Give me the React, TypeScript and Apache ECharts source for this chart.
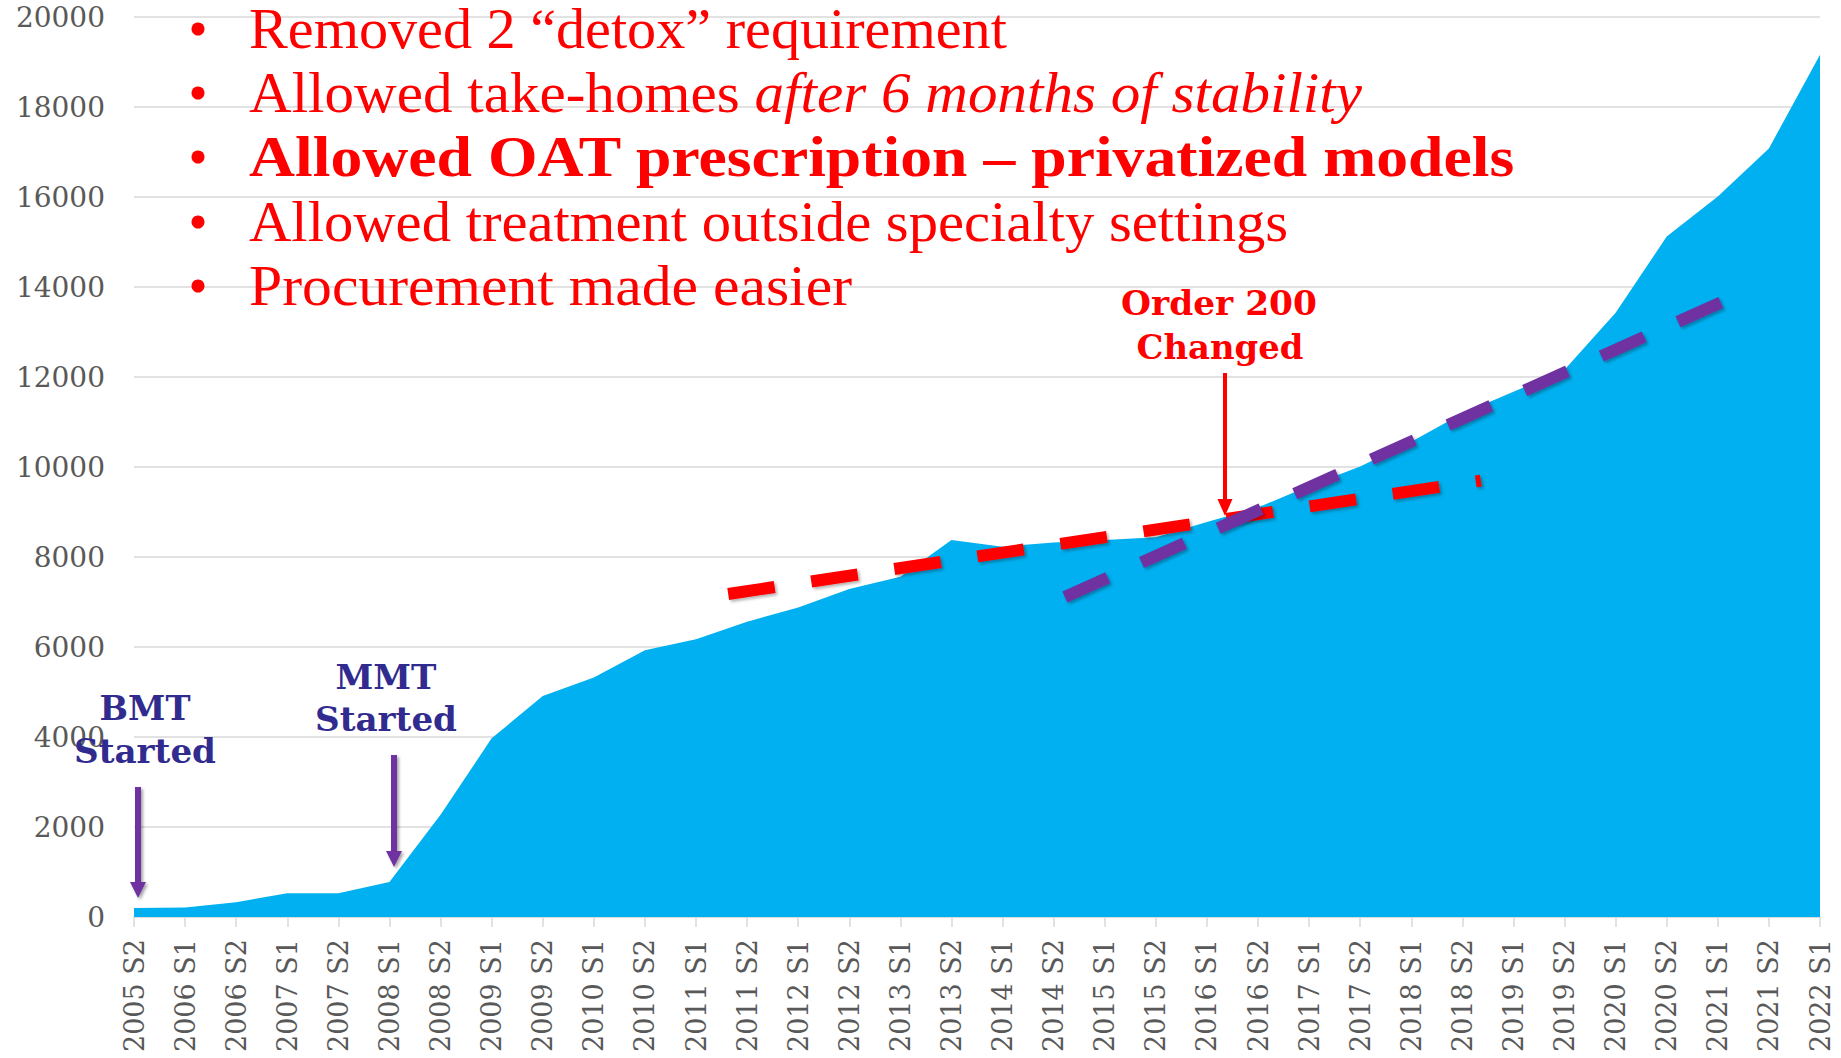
import React, { useEffect, useRef } from 'react';
import * as echarts from 'echarts';

const categories = [
  '2005 S2', '2006 S1', '2006 S2', '2007 S1', '2007 S2', '2008 S1', '2008 S2', '2009 S1', '2009 S2',
  '2010 S1', '2010 S2', '2011 S1', '2011 S2', '2012 S1', '2012 S2', '2013 S1', '2013 S2', '2014 S1',
  '2014 S2', '2015 S1', '2015 S2', '2016 S1', '2016 S2', '2017 S1', '2017 S2', '2018 S1', '2018 S2',
  '2019 S1', '2019 S2', '2020 S1', '2020 S2', '2021 S1', '2021 S2', '2022 S1',
];

const patients = [
  200, 210, 330, 530, 530, 780, 2270, 3970, 4910, 5320, 5930, 6170, 6560, 6880, 7290, 7560, 8380,
  8230, 8320, 8380, 8440, 8780, 9100, 9580, 10010, 10560, 11190, 11670, 12160, 13430, 15120, 16010,
  17080, 19160,
];

// trend lines: [category position, value]
const redTrend = [
  [11.63, 7178],
  [26.36, 9698],
];
const purpleTrend = [
  [18.22, 7111],
  [31.08, 13667],
];

const yTicks = { min: 0, max: 20000, interval: 2000 };

const bullet1 = 'Removed 2 \u201Cdetox\u201D requirement';
const bullet2a = 'Allowed take-homes ';
const bullet2b = 'after 6 months of stability';
const bullet3 = 'Allowed OAT prescription \u2013 privatized models';
const bullet4 = 'Allowed treatment outside specialty settings';
const bullet5 = 'Procurement made easier';

const RED = '#FF0000';
const PURPLE = '#7030A0';
const NAVY = '#312B8F';
const AREA = '#00B0F0';
const GRIDC = '#D9D9D9';
const LABEL = '#595959';

export default function App() {
  const ref = useRef<HTMLDivElement>(null);

  useEffect(() => {
    if (!ref.current) return;
    document.body.style.margin = '0';
    const chart = echarts.init(ref.current, undefined, { renderer: 'svg' });

    const cv = document.createElement('canvas');
    const ctx = cv.getContext('2d') as CanvasRenderingContext2D;
    const tw = (t: string, size: number, family: string, weight = 'normal', style = 'normal') => {
      ctx.font = `${style} ${weight} ${size}px "${family}"`;
      return ctx.measureText(t).width;
    };

    const BF = 'Liberation Serif';
    const BS = 57;
    const LF = 'DejaVu Serif';
    const LS = 34;

    const bulletYs = [29, 93, 157, 222, 286];
    const textX = 249;

    const bulletText = (text: string, y: number, target: number, weight = 'normal') => ({
      type: 'text',
      x: textX,
      y,
      z: 100,
      scaleX: target / tw(text, BS, BF, weight),
      style: {
        text,
        fontFamily: BF,
        fontSize: BS,
        fontWeight: weight,
        lineHeight: 54,
        fill: RED,
        align: 'left',
        verticalAlign: 'middle',
        textAlign: 'left',
        textVerticalAlign: 'middle',
      },
    });

    const w2 = tw(bullet2a, BS, BF) + tw(bullet2b, BS, BF, 'normal', 'italic');

    const label = (text: string, x: number, y: number, target: number, color: string) => ({
      type: 'text',
      x,
      y,
      z: 100,
      scaleX: target / tw(text, LS, LF, 'bold'),
      style: {
        text,
        fontFamily: LF,
        fontSize: LS,
        fontWeight: 'bold',
        fill: color,
        align: 'center',
        verticalAlign: 'middle',
        textAlign: 'center',
        textVerticalAlign: 'middle',
      },
    });

    const arrow = (x: number, y1: number, y2: number, color: string, lw: number, hw: number, hh: number, shadow: boolean) => {
      const sh = shadow
        ? { shadowBlur: 3, shadowColor: 'rgba(0,0,0,0.35)', shadowOffsetX: 2, shadowOffsetY: 2 }
        : {};
      return [
        {
          type: 'rect',
          z: 100,
          shape: { x: x - lw / 2, y: y1, width: lw, height: y2 - hh - y1 + 1 },
          style: { fill: color, ...sh },
        },
        {
          type: 'polygon',
          z: 100,
          shape: { points: [[x - hw / 2, y2 - hh], [x + hw / 2, y2 - hh], [x, y2]] },
          style: { fill: color, ...sh },
        },
      ];
    };

    const graphics: any[] = [];
    bulletYs.forEach((y) => {
      graphics.push({ type: 'circle', z: 100, shape: { cx: 198, cy: y, r: 6.5 }, style: { fill: RED } });
    });
    graphics.push(bulletText(bullet1, bulletYs[0], 758));
    graphics.push({
      type: 'text',
      x: textX,
      y: bulletYs[1],
      z: 100,
      scaleX: 1113 / w2,
      style: {
        text: `{a|${bullet2a}}{b|${bullet2b}}`,
        align: 'left',
        verticalAlign: 'middle',
        textAlign: 'left',
        textVerticalAlign: 'middle',
        rich: {
          a: { fontFamily: BF, fontSize: BS, lineHeight: 54, fill: RED },
          b: { fontFamily: BF, fontSize: BS, lineHeight: 54, fontStyle: 'italic', fill: RED },
        },
      },
    });
    graphics.push(bulletText(bullet3, bulletYs[2], 1267, 'bold'));
    graphics.push(bulletText(bullet4, bulletYs[3], 1039));
    graphics.push(bulletText(bullet5, bulletYs[4], 603));

    graphics.push(label('BMT', 145, 708, 91, NAVY));
    graphics.push(label('Started', 145, 751, 142, NAVY));
    graphics.push(label('MMT', 386, 677, 101, NAVY));
    graphics.push(label('Started', 386, 719, 142, NAVY));
    graphics.push(label('Order 200', 1219, 303, 196, RED));
    graphics.push(label('Changed', 1220, 347, 167, RED));

    graphics.push(...arrow(138, 787, 898, PURPLE, 6, 16, 16, true));
    graphics.push(...arrow(394, 755, 867, PURPLE, 6, 16, 16, true));
    graphics.push(...arrow(1225, 373, 516, RED, 4, 15, 17, false));

    const trendStyle = (color: string) => ({
      color,
      width: 12,
      type: [47, 37],
      cap: 'butt',
      shadowBlur: 3,
      shadowColor: 'rgba(0,0,0,0.3)',
      shadowOffsetX: 2,
      shadowOffsetY: 2,
    });

    chart.setOption({
      animation: false,
      backgroundColor: '#ffffff',
      grid: { left: 134, right: 21, top: 17, bottom: 141, containLabel: false },
      xAxis: [
        {
          type: 'category',
          data: categories,
          boundaryGap: false,
          axisLine: { show: true, lineStyle: { color: GRIDC, width: 1.5 } },
          axisTick: { show: true, length: 10, interval: 0, lineStyle: { color: GRIDC, width: 1.5 } },
          axisLabel: {
            interval: 0,
            rotate: 90,
            margin: 22,
            color: LABEL,
            fontFamily: 'DejaVu Serif',
            fontSize: 27,
          },
          splitLine: { show: false },
        },
        {
          type: 'value',
          min: 0,
          max: categories.length - 1,
          show: false,
          position: 'bottom',
        },
      ],
      yAxis: {
        type: 'value',
        min: yTicks.min,
        max: yTicks.max,
        interval: yTicks.interval,
        axisLine: { show: false },
        axisTick: { show: false },
        axisLabel: {
          margin: 29,
          color: LABEL,
          fontFamily: 'DejaVu Serif',
          fontSize: 28,
          formatter: (v: number) => String(v),
        },
        splitLine: { lineStyle: { color: GRIDC, width: 1.5 } },
      },
      series: [
        {
          type: 'line',
          data: patients,
          xAxisIndex: 0,
          symbol: 'none',
          lineStyle: { width: 0 },
          areaStyle: { color: AREA, opacity: 1 },
          z: 2,
        },
        {
          type: 'line',
          data: redTrend,
          xAxisIndex: 1,
          symbol: 'none',
          lineStyle: trendStyle(RED),
          z: 3,
        },
        {
          type: 'line',
          data: purpleTrend,
          xAxisIndex: 1,
          symbol: 'none',
          lineStyle: trendStyle(PURPLE),
          z: 4,
        },
      ],
      graphic: graphics,
    });

    return () => chart.dispose();
  }, []);

  return (
    <div
      ref={ref}
      style={{ position: 'fixed', left: 0, top: 0, width: 1841, height: 1058, background: '#fff' }}
    />
  );
}
